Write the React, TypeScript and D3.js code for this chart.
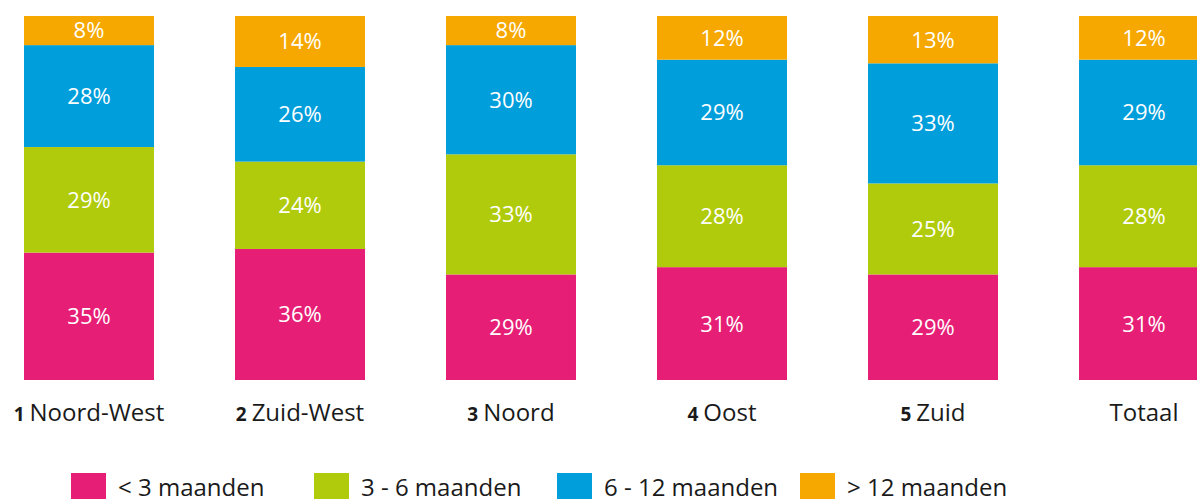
import { useEffect, useRef } from "react";
import * as d3 from "d3";

const regionNums = ["1", "2", "3", "4", "5", ""];
const regionNames = ["Noord-West", "Zuid-West", "Noord", "Oost", "Zuid", "Totaal"];

const seriesNames = ["< 3 maanden", "3 - 6 maanden", "6 - 12 maanden", "> 12 maanden"];
const seriesColors = ["#e61e76", "#b0cb0c", "#009edb", "#f6a800"];

const under3 = [35, 36, 29, 31, 29, 31];
const from3to6 = [29, 24, 33, 28, 25, 28];
const from6to12 = [28, 26, 30, 29, 33, 29];
const over12 = [8, 14, 8, 12, 13, 12];

const App = () => {
  const svgRef = useRef<SVGSVGElement>(null);

  useEffect(() => {
    document.body.style.margin = "0";
    const svg = d3.select(svgRef.current);
    svg.selectAll("*").remove();

    const font = "'Open Sans', sans-serif";
    const keys = ["a", "b", "c", "d"];
    const table = regionNames.map((name, i) => ({
      name,
      a: under3[i],
      b: from3to6[i],
      c: from6to12[i],
      d: over12[i],
    }));

    const x = d3
      .scaleBand()
      .domain(regionNames)
      .range([24, 1209])
      .paddingInner(0.384)
      .paddingOuter(0);

    const y = d3.scaleLinear().domain([0, 100]).range([380, 16]);

    const stacked = d3.stack<any>().keys(keys)(table);

    const layers = svg
      .selectAll(".layer")
      .data(stacked)
      .enter()
      .append("g")
      .attr("class", "layer")
      .attr("fill", (d, i) => seriesColors[i]);

    layers
      .selectAll("rect")
      .data((d) => d)
      .enter()
      .append("rect")
      .attr("x", (d: any) => x(d.data.name)!)
      .attr("width", x.bandwidth())
      .attr("y", (d) => y(d[1]))
      .attr("height", (d) => y(d[0]) - y(d[1]));

    layers
      .selectAll("text")
      .data((d) => d)
      .enter()
      .append("text")
      .attr("x", (d: any) => x(d.data.name)! + x.bandwidth() / 2)
      .attr("y", (d) => (y(d[0]) + y(d[1])) / 2)
      .attr("dy", "0.36em")
      .attr("text-anchor", "middle")
      .attr("fill", "white")
      .style("font-family", font)
      .style("font-size", "22px")
      .text((d) => `${d[1] - d[0]}%`);

    // category labels
    const cat = svg
      .selectAll(".cat")
      .data(regionNames)
      .enter()
      .append("text")
      .attr("class", "cat")
      .attr("x", (d) => x(d)! + x.bandwidth() / 2)
      .attr("y", 421)
      .attr("text-anchor", "middle")
      .attr("fill", "#1a1a1a")
      .style("font-family", font)
      .style("font-size", "24px");

    cat
      .append("tspan")
      .style("font-weight", "bold")
      .style("font-size", "19px")
      .text((d, i) => (regionNums[i] ? regionNums[i] + " " : ""));
    cat.append("tspan").text((d) => d);

    // legend
    const legend = svg
      .selectAll(".legend")
      .data(seriesNames)
      .enter()
      .append("g")
      .attr("class", "legend")
      .attr("transform", (d, i) => `translate(${71 + i * 243},473)`);

    legend
      .append("rect")
      .attr("width", 35)
      .attr("height", 28)
      .attr("fill", (d, i) => seriesColors[i]);

    legend
      .append("text")
      .attr("x", 47)
      .attr("y", 23)
      .attr("fill", "#1a1a1a")
      .style("font-family", font)
      .style("font-size", "24px")
      .text((d) => d);
  }, []);

  return <svg ref={svgRef} width={1197} height={499} style={{ display: "block" }}></svg>;
};

export default App;
